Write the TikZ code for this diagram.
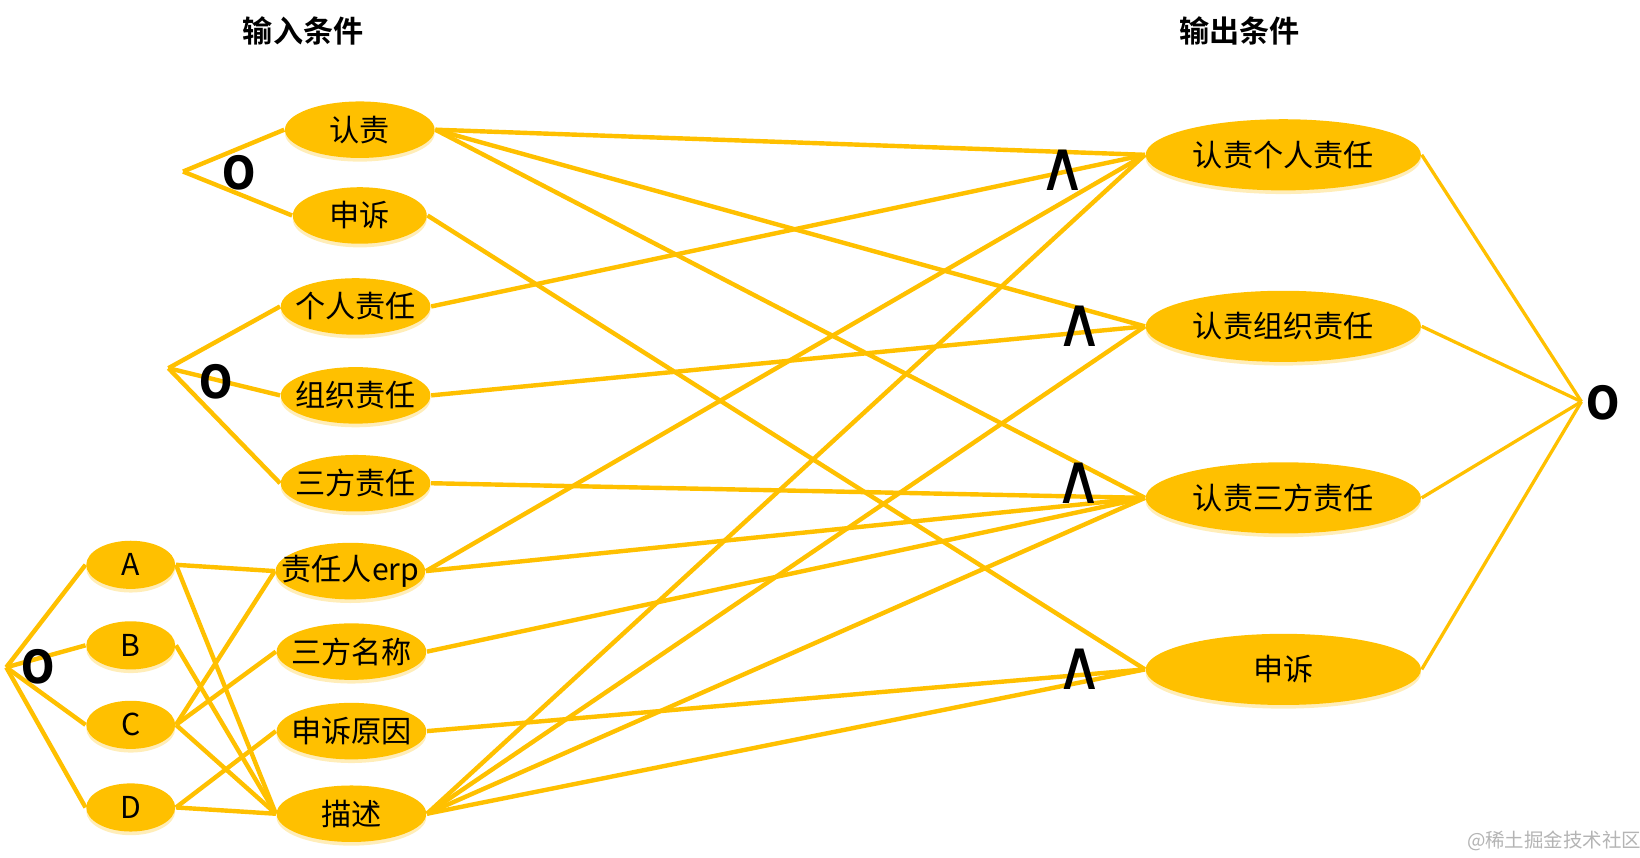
\documentclass[tikz,border=0pt]{standalone}
\usepackage{fontspec}
\setmainfont{Noto Sans CJK SC}[BoldFont={Noto Sans CJK SC Bold}]
\newfontfamily\symfont{DejaVu Sans}
\usetikzlibrary{shapes.geometric,backgrounds,shadows}
\definecolor{gold}{HTML}{FFC000}
\definecolor{glow}{HTML}{FFE9A8}
\definecolor{wmgray}{HTML}{B4B4B4}
\begin{document}
\begin{tikzpicture}[x=0.01cm,y=-0.01cm,
  ell/.style={ellipse, fill=gold, draw=none, inner sep=0pt,
    drop shadow={shadow xshift=0pt, shadow yshift=-0.035cm, fill=glow, opacity=0.8}},
  inE/.style={ell, minimum width=1.43cm, minimum height=0.54cm},
  smE/.style={ell, minimum width=0.85cm, minimum height=0.46cm},
  outE/.style={ell, minimum width=2.63cm, minimum height=0.68cm},
  lbl/.style={font=\fontsize{8.2}{9}\selectfont, text=black, inner sep=0pt},
  title/.style={font=\fontsize{8.2}{9}\selectfont\bfseries, text=black, inner sep=0pt},
  conn/.style={draw=gold, line width=1.2pt},
  thin/.style={draw=gold, line width=0.9pt},
  andsym/.style={font=\symfont\fontsize{19}{19}\selectfont, text=black, inner sep=0pt, xscale=0.95},
  osym/.style={font=\symfont\bfseries\fontsize{12.5}{12.5}\selectfont, text=black, inner sep=0pt, xscale=0.85},
  wm/.style={font=\fontsize{5.3}{6}\selectfont, text=wmgray, inner sep=0pt}
]
\useasboundingbox (0,0) rectangle (1568,820);

% titles
\node[title] (t1) at (290,30) {输入条件};
\node[title] (t2) at (1185,30) {输出条件};

% input conditions
\node[inE, label={[lbl]center:认责}] (rz) at (344,124) {};
\node[inE, minimum width=1.28cm, label={[lbl]center:申诉}] (ss) at (344,206) {};
\node[inE, label={[lbl]center:个人责任}] (gr) at (340,293) {};
\node[inE, label={[lbl]center:组织责任}] (zz) at (340,378) {};
\node[inE, label={[lbl]center:三方责任}] (sf) at (340,462) {};
\node[inE, label={[lbl]center:责任人erp}] (erp) at (335,546) {};
\node[inE, label={[lbl]center:三方名称}] (mc) at (336,623) {};
\node[inE, label={[lbl]center:申诉原因}] (yy) at (336,699) {};
\node[inE, label={[lbl]center:描述}] (ms) at (336,778) {};

\node[smE, label={[lbl]center:A}] (A) at (125,540) {};
\node[smE, label={[lbl]center:B}] (B) at (125,617) {};
\node[smE, label={[lbl]center:C}] (C) at (125,693) {};
\node[smE, label={[lbl]center:D}] (D) at (125,772) {};

% output conditions
\node[outE, label={[lbl]center:认责个人责任}] (o1) at (1227,148) {};
\node[outE, label={[lbl]center:认责组织责任}] (o2) at (1227,312) {};
\node[outE, label={[lbl]center:认责三方责任}] (o3) at (1227,476) {};
\node[outE, label={[lbl]center:申诉}] (o4) at (1227,640) {};

% junction points
\coordinate (v1) at (175,164);
\coordinate (v2) at (161,352);
\coordinate (v3) at (6,638);
\coordinate (v4) at (1512,384);

\begin{scope}[on background layer]
  \draw[conn] (v1) -- (rz.west);
  \draw[conn] (v1) -- (ss.west);
  \draw[conn] (v2) -- (gr.west);
  \draw[conn] (v2) -- (zz.west);
  \draw[conn] (v2) -- (sf.west);
  \draw[conn] (v3) -- (A.west);
  \draw[conn] (v3) -- (B.west);
  \draw[conn] (v3) -- (C.west);
  \draw[conn] (v3) -- (D.west);

  \draw[conn] (A.east) -- (erp.west);
  \draw[conn] (A.east) -- (ms.west);
  \draw[conn] (B.east) -- (ms.west);
  \draw[conn] (C.east) -- (erp.west);
  \draw[conn] (C.east) -- (mc.west);
  \draw[conn] (C.east) -- (ms.west);
  \draw[conn] (D.east) -- (yy.west);
  \draw[conn] (D.east) -- (ms.west);

  \draw[conn] (rz.east) -- (o1.west);
  \draw[conn] (rz.east) -- (o2.west);
  \draw[conn] (rz.east) -- (o3.west);
  \draw[conn] (ss.east) -- (o4.west);
  \draw[conn] (gr.east) -- (o1.west);
  \draw[conn] (zz.east) -- (o2.west);
  \draw[conn] (sf.east) -- (o3.west);
  \draw[conn] (erp.east) -- (o1.west);
  \draw[conn] (erp.east) -- (o3.west);
  \draw[conn] (mc.east) -- (o3.west);
  \draw[conn] (yy.east) -- (o4.west);
  \draw[conn] (ms.east) -- (o1.west);
  \draw[conn] (ms.east) -- (o2.west);
  \draw[conn] (ms.east) -- (o3.west);
  \draw[conn] (ms.east) -- (o4.west);

  \draw[thin] (o1.east) -- (v4);
  \draw[thin] (o2.east) -- (v4);
  \draw[thin] (o3.east) -- (v4);
  \draw[thin] (o4.east) -- (v4);
\end{scope}

% logic symbols
\node[osym] (or1) at (229,165) {O};
\node[osym] (or2) at (207,365) {O};
\node[osym] (or3) at (36,637) {O};
\node[osym] (or4) at (1533,385) {O};
\node[andsym] (and1) at (1016,163) {∧};
\node[andsym] (and2) at (1032,312) {∧};
\node[andsym] (and3) at (1031,462) {∧};
\node[andsym] (and4) at (1032,640) {∧};

% watermark
\node[wm] (wmark) at (1486,804) {@稀土掘金技术社区};
\end{tikzpicture}
\end{document}
